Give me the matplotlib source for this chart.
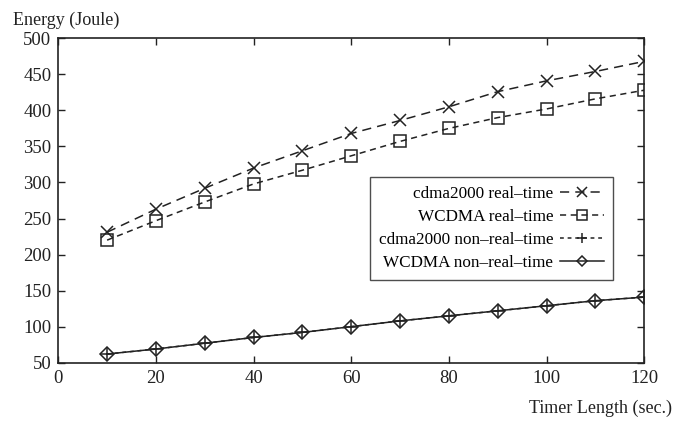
import matplotlib
matplotlib.use("Agg")
import matplotlib.pyplot as plt

timer = [10, 20, 30, 40, 50, 60, 70, 80, 90, 100, 110, 120]
cdma_rt = [231, 263, 292, 320, 344, 368, 386, 405, 426, 441, 454, 468]
wcdma_rt = [220, 247, 273, 298, 317, 337, 357, 375, 390, 402, 416, 428]
cdma_nrt = [62, 69, 77, 85, 92, 100, 108, 115, 122, 129, 136, 141]
wcdma_nrt = [62, 69, 77, 85, 92, 100, 108, 115, 122, 129, 136, 141]

plt.rcParams["font.family"] = "Liberation Serif"

fig = plt.figure(figsize=(6.89, 4.21), dpi=100)
ax = fig.add_axes([0.0846, 0.1385, 0.8504, 0.7705])

lc = "#222222"
ax.plot(timer, cdma_rt, color=lc, lw=1.1, dashes=(6, 4), marker="x", ms=9, mew=1.1,
        label="cdma2000 real\u2013time")
ax.plot(timer, wcdma_rt, color=lc, lw=1.1, dashes=(4, 3), marker="s", ms=9, mew=1.1,
        mfc="none", label="WCDMA real\u2013time")
ax.plot(timer, cdma_nrt, color=lc, lw=1.1, dashes=(2.5, 2.5), marker="+", ms=9, mew=1.1,
        label="cdma2000 non\u2013real\u2013time")
ax.plot(timer, wcdma_nrt, color=lc, lw=1.1, marker="D", ms=7, mew=1.1, mfc="none",
        label="WCDMA non\u2013real\u2013time")

ax.set_xlim(0, 120)
ax.set_ylim(50, 500)
ax.set_xticks(range(0, 121, 20))
ax.set_yticks(range(50, 501, 50))
ax.tick_params(direction="in", length=5, width=1, top=True, right=True,
               labelsize=13.5, pad=5, colors=lc)
for s in ax.spines.values():
    s.set_color(lc)
    s.set_linewidth(1.2)

leg = ax.legend(loc="upper left", bbox_to_anchor=(0.532, 0.572), borderaxespad=0,
                markerfirst=False, markerscale=0.8,
                fontsize=12.3, frameon=True, fancybox=False, edgecolor=lc,
                handlelength=2.6, borderpad=0.5, labelspacing=0.42, handletextpad=0.4)
leg.get_frame().set_linewidth(1.0)
for t in leg.get_texts():
    t.set_ha("right")
leg._legend_box.align = "right"

fig.text(0.019, 0.952, "Energy (Joule)", fontsize=13, va="center", ha="left", color=lc)
fig.text(0.976, 0.031, "Timer Length (sec.)", fontsize=13, va="center", ha="right", color=lc)

fig.savefig("out.png", dpi=100)
